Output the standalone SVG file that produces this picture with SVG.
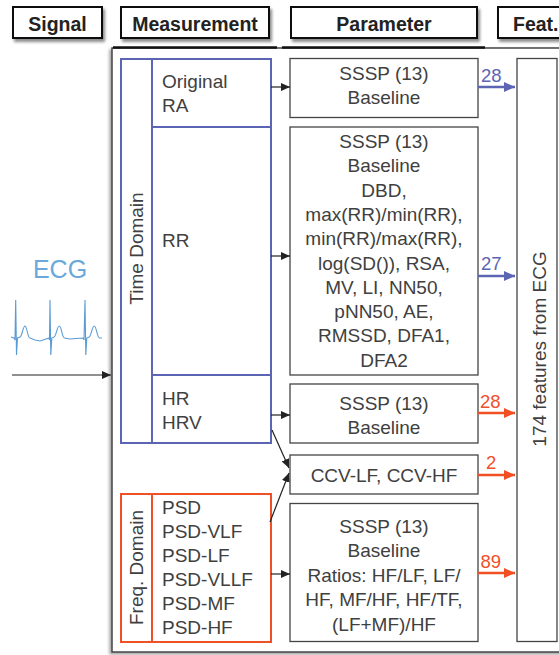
<svg xmlns="http://www.w3.org/2000/svg" width="559" height="655" viewBox="0 0 559 655">
<defs>
<style>
.hd{fill:#fff;stroke:#111;stroke-width:2}
.ht{font-family:"Liberation Sans",Arial,sans-serif;font-weight:bold;font-size:19.5px;fill:#222;text-anchor:middle}
.t{font-family:"Liberation Sans",Arial,sans-serif;font-size:19px;fill:#404040}
.c{text-anchor:middle}
.pb{fill:#fff;stroke:#444;stroke-width:1.3}
.blue{fill:none;stroke:#5c64b4;stroke-width:2}
.red{fill:none;stroke:#f05023;stroke-width:2}
.ca{stroke:#222;stroke-width:1.2;fill:none;marker-end:url(#ah)}
.cb{stroke:#5c64b4;stroke-width:2.5;fill:none;marker-end:url(#ahb)}
.cr{stroke:#f05023;stroke-width:2.5;fill:none;marker-end:url(#ahr)}
.nb{font-family:"Liberation Sans",Arial,sans-serif;font-size:18.5px;fill:#5c64b4}
.nr{font-family:"Liberation Sans",Arial,sans-serif;font-size:18.5px;fill:#f0502a}
</style>
<filter id="sh" x="-10%" y="-20%" width="130%" height="160%">
<feDropShadow dx="2" dy="3" stdDeviation="1.5" flood-color="#000" flood-opacity="0.45"/>
</filter>
<filter id="sh2" x="-5%" y="-5%" width="110%" height="110%">
<feDropShadow dx="-2" dy="2" stdDeviation="1.5" flood-color="#000" flood-opacity="0.35"/>
</filter>
<marker id="ah" markerUnits="userSpaceOnUse" markerWidth="10" markerHeight="8" refX="9" refY="4" orient="auto"><path d="M0,0 L9,4 L0,8 z" fill="#222"/></marker>
<marker id="ahb" markerUnits="userSpaceOnUse" markerWidth="12" markerHeight="10" refX="11" refY="5" orient="auto"><path d="M0,0 L11,5 L0,10 z" fill="#5c64b4"/></marker>
<marker id="ahr" markerUnits="userSpaceOnUse" markerWidth="12" markerHeight="10" refX="11" refY="5" orient="auto"><path d="M0,0 L11,5 L0,10 z" fill="#f05023"/></marker>
</defs>
<rect width="559" height="655" fill="#fff"/>

<g id="headers">
<rect class="hd" x="13" y="7" width="89" height="31" filter="url(#sh)"/>
<text class="ht" x="57.5" y="31">Signal</text>
<rect class="hd" x="121" y="7" width="148" height="31" filter="url(#sh)"/>
<text class="ht" x="195" y="31">Measurement</text>
<rect class="hd" x="291" y="7" width="186" height="31" filter="url(#sh)"/>
<text class="ht" x="384" y="31">Parameter</text>
<rect class="hd" x="498" y="7" width="75" height="31" filter="url(#sh)"/>
<text class="ht" x="513" y="31" style="text-anchor:start">Feat.</text>
</g>

<g id="frame">
<rect x="112" y="48" width="470" height="604" fill="#fff" stroke="#444" stroke-width="1.5" filter="url(#sh2)"/>
<line x1="113" y1="47.5" x2="277" y2="47.5" stroke="#111" stroke-width="2.5"/>
<line x1="282" y1="47.5" x2="485" y2="47.5" stroke="#111" stroke-width="2.5"/>
</g>

<g id="signal">
<text x="60" y="278" font-family="Liberation Sans,Arial,sans-serif" font-size="25" fill="#6aa8dc" text-anchor="middle">ECG</text>
<path d="M11 337 L14 338 L15 340 L15.7 300 L16.5 355 L17.5 338 L20 337 C22 337 23 326 25 326 C27 326 27.5 338 30 338 L35 340 L40 341 L46 339 L49 338 L49.5 340 L50 300 L50.8 355 L51.8 338 L54 337 C56 337 57 326 59.3 326 C61.5 326 62 338 64.5 338 L70 339 L76 338.5 L83 338 L84 340 L85 300 L85.8 355 L86.8 338 L89 337 C91 337 92 326 94.3 326 C96.5 326 97 338 99.5 338 L102 338" fill="none" stroke="#5b9bd5" stroke-width="1.1"/>
</g>

<g id="time-domain">
<rect class="blue" x="121" y="59" width="150" height="384"/>
<line class="blue" x1="152" y1="59" x2="152" y2="443"/>
<line class="blue" x1="152" y1="127" x2="271" y2="127"/>
<line class="blue" x1="152" y1="375" x2="271" y2="375"/>
<text class="t c" transform="translate(143,248.5) rotate(-90)">Time Domain</text>
</g>
<g id="m-original-ra">
<text class="t" x="162" y="88">Original</text>
<text class="t" x="162" y="112">RA</text>
</g>
<g id="m-rr">
<text class="t" x="162" y="247">RR</text>
</g>
<g id="m-hr">
<text class="t" x="162" y="405">HR</text>
<text class="t" x="162" y="429">HRV</text>
</g>

<g id="freq-domain">
<rect class="red" x="121" y="494" width="150" height="148"/>
<line class="red" x1="152" y1="494" x2="152" y2="642"/>
<text class="t c" transform="translate(143,567.5) rotate(-90)">Freq. Domain</text>
<text class="t" x="162" y="514">PSD</text>
<text class="t" x="162" y="538">PSD-VLF</text>
<text class="t" x="162" y="562">PSD-LF</text>
<text class="t" x="162" y="586">PSD-VLLF</text>
<text class="t" x="162" y="610">PSD-MF</text>
<text class="t" x="162" y="634">PSD-HF</text>
</g>

<g id="p-original">
<rect class="pb" x="290" y="58.5" width="188" height="59"/>
<text class="t c" x="384" y="80">SSSP (13)</text>
<text class="t c" x="384" y="104">Baseline</text>
</g>
<g id="p-rr">
<rect class="pb" x="290" y="127" width="188" height="248"/>
<text class="t c" x="384" y="148">SSSP (13)</text>
<text class="t c" x="384" y="172.3">Baseline</text>
<text class="t c" x="384" y="196.6">DBD,</text>
<text class="t c" x="384" y="220.9">max(RR)/min(RR),</text>
<text class="t c" x="384" y="245.2">min(RR)/max(RR),</text>
<text class="t c" x="384" y="269.5">log(SD()), RSA,</text>
<text class="t c" x="384" y="293.8">MV, LI, NN50,</text>
<text class="t c" x="384" y="318.1">pNN50, AE,</text>
<text class="t c" x="384" y="342.4">RMSSD, DFA1,</text>
<text class="t c" x="384" y="366.7">DFA2</text>
</g>
<g id="p-hr">
<rect class="pb" x="290" y="384" width="188" height="59"/>
<text class="t c" x="384" y="410">SSSP (13)</text>
<text class="t c" x="384" y="433.5">Baseline</text>
</g>
<g id="p-ccv">
<rect class="pb" x="290" y="455" width="188" height="39"/>
<text class="t c" x="384" y="481.5">CCV-LF, CCV-HF</text>
</g>
<g id="p-psd">
<rect class="pb" x="290" y="503.5" width="188" height="138"/>
<text class="t c" x="384" y="532.5">SSSP (13)</text>
<text class="t c" x="384" y="556.5">Baseline</text>
<text class="t c" x="384" y="581.5">Ratios: HF/LF, LF/</text>
<text class="t c" x="384" y="606">HF, MF/HF, HF/TF,</text>
<text class="t c" x="384" y="630.5">(LF+MF)/HF</text>
</g>

<g id="features">
<rect class="pb" x="517" y="58.5" width="40" height="583"/>
<text class="t c" transform="translate(546,349) rotate(-90)">174 features from ECG</text>
</g>

<g id="connectors">
<line class="ca" x1="12" y1="375" x2="111" y2="375"/>
<line class="ca" x1="271" y1="87" x2="290" y2="87"/>
<line class="ca" x1="271" y1="256" x2="290" y2="256"/>
<line class="ca" x1="271" y1="415" x2="290" y2="415"/>
<line class="ca" x1="272" y1="430" x2="289" y2="468"/>
<line class="ca" x1="270" y1="522" x2="289" y2="473"/>
<line class="ca" x1="271" y1="574" x2="290" y2="574"/>
<line class="cb" x1="478" y1="87" x2="515" y2="87"/>
<line class="cb" x1="478" y1="276" x2="515" y2="276"/>
<line class="cr" x1="478" y1="413" x2="515" y2="413"/>
<line class="cr" x1="478" y1="475" x2="515" y2="475"/>
<line class="cr" x1="478" y1="573" x2="515" y2="573"/>
<text class="nb" x="481" y="81.5">28</text>
<text class="nb" x="481" y="270">27</text>
<text class="nr" x="480" y="408">28</text>
<text class="nr" x="486" y="469">2</text>
<text class="nr" x="480.5" y="568">89</text>
</g>
</svg>
